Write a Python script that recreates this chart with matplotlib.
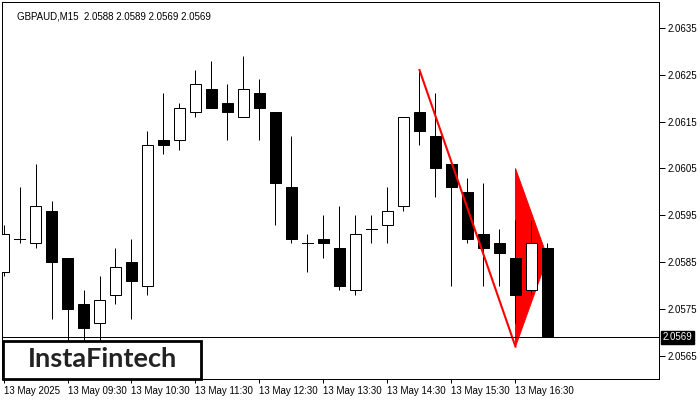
import matplotlib.pyplot as plt
from matplotlib.patches import Rectangle, Polygon
import matplotlib.transforms as mtransforms

# GBPAUD M15 candles, 13 May 2025 from 08:30
opens  = [2.0583, 2.0590, 2.0589, 2.0596, 2.0586, 2.0576, 2.0572, 2.0578, 2.0585, 2.0580,
          2.0611, 2.0611, 2.0617, 2.0622, 2.0619, 2.0616, 2.0621, 2.0617, 2.0601, 2.0589,
          2.0590, 2.0588, 2.0579, 2.0592, 2.0593, 2.0597, 2.0617, 2.0612, 2.0606, 2.0600,
          2.0591, 2.0589, 2.0586, 2.0579, 2.0588]
highs  = [2.0593, 2.0601, 2.0606, 2.0598, 2.0586, 2.0579, 2.0582, 2.0588, 2.0590, 2.0613,
          2.0621, 2.0619, 2.0626, 2.0628, 2.0623, 2.0629, 2.0624, 2.0617, 2.0612, 2.0591,
          2.0595, 2.0597, 2.0595, 2.0595, 2.0601, 2.0616, 2.0626, 2.0621, 2.0606, 2.0603,
          2.0602, 2.0592, 2.0594, 2.0594, 2.0589]
lows   = [2.0582, 2.0589, 2.0588, 2.0573, 2.0567, 2.0566, 2.0566, 2.0576, 2.0573, 2.0578,
          2.0608, 2.0609, 2.0616, 2.0618, 2.0611, 2.0616, 2.0611, 2.0593, 2.0589, 2.0583,
          2.0586, 2.0579, 2.0578, 2.0589, 2.0589, 2.0596, 2.0610, 2.0599, 2.0580, 2.0589,
          2.0580, 2.0580, 2.0572, 2.0578, 2.0569]
closes = [2.0591, 2.0590, 2.0597, 2.0585, 2.0575, 2.0571, 2.0577, 2.0584, 2.0581, 2.0610,
          2.0610, 2.0618, 2.0623, 2.0618, 2.0617, 2.0622, 2.0618, 2.0602, 2.0590, 2.0589,
          2.0589, 2.0580, 2.0591, 2.0592, 2.0596, 2.0616, 2.0613, 2.0605, 2.0601, 2.0590,
          2.0588, 2.0587, 2.0578, 2.0589, 2.0569]

time_labels = ["13 May 2025", "13 May 09:30", "13 May 10:30", "13 May 11:30", "13 May 12:30",
               "13 May 13:30", "13 May 14:30", "13 May 15:30", "13 May 16:30"]
time_idx = [0, 4, 8, 12, 16, 20, 24, 28, 32]
price_ticks = [2.0565, 2.0575, 2.0585, 2.0595, 2.0605, 2.0615, 2.0625, 2.0635]

# pennant pattern: pole line and flag triangle
pole_x = [26, 32]
pole_y = [2.0626, 2.0567]
flag_x = [32, 32, 34]
flag_y = [2.0605, 2.0567, 2.0586]

last_price = 2.0569
title = "GBPAUD,M15  2.0588 2.0589 2.0569 2.0569"

plt.rcParams['font.family'] = ['Liberation Sans', 'DejaVu Sans']
fig = plt.figure(figsize=(7, 4), dpi=100)
ax = fig.add_axes([2/700, 21/400, 657/700, 377/400])

px = 0.72  # one pixel in points
bw = 0.69  # body width

for i in range(len(opens)):
    o, h, l, c = opens[i], highs[i], lows[i], closes[i]
    ax.plot([i, i], [l, h], color='black', lw=px, zorder=3, solid_capstyle='butt')
    if o == c:
        ax.plot([i - bw/2, i + bw/2], [o, o], color='black', lw=px, zorder=4)
    else:
        face = 'white' if c > o else 'black'
        ax.add_patch(Rectangle((i - bw/2, min(o, c)), bw, abs(c - o),
                               facecolor=face, edgecolor='black', lw=px, zorder=4))

# flag (behind candles) and pole (on top)
ax.add_patch(Polygon(list(zip(flag_x, flag_y)), closed=True, facecolor='#ff0000',
                     edgecolor='#ff0000', lw=px, zorder=2))
ax.plot(pole_x, pole_y, color='#ff0000', lw=1.5, zorder=5)

ax.axhline(last_price, color='black', lw=px, zorder=6)

ax.set_xlim(-0.094, 40.97)
ax.set_ylim(2.05601, 2.06405)

ax.yaxis.tick_right()
ax.set_yticks(price_ticks)
ax.set_yticklabels(["%.4f" % p for p in price_ticks])
ax.set_xticks(time_idx)
ax.set_xticklabels(time_labels, ha='left')
ax.tick_params(axis='y', length=4, width=px, pad=2, labelsize=7)
ax.tick_params(axis='x', length=3, width=px, pad=2, labelsize=7)
for s in ax.spines.values():
    s.set_linewidth(px)

# current price label on the right axis
trans = mtransforms.blended_transform_factory(ax.transAxes, ax.transData)
ax.text(1.006, last_price, "2.0569", transform=trans, fontsize=7, color='white',
        va='center', ha='left',
        bbox=dict(boxstyle='square,pad=0.18', facecolor='black', edgecolor='black'))

ax.text(0.023, 0.975, title, transform=ax.transAxes, fontsize=7, va='top', ha='left')

# logo
fig.patches.append(Rectangle((3/700, 21/400), 198/700, 38/400, transform=fig.transFigure,
                             facecolor='white', edgecolor='black', lw=2, zorder=10))
fig.text(102/700, 0.103, "InstaFintech", fontsize=19.5, family='Lato', fontweight='bold',
         color='#222222', ha='center', va='center', zorder=11)

fig.savefig('out.png', dpi=100)
